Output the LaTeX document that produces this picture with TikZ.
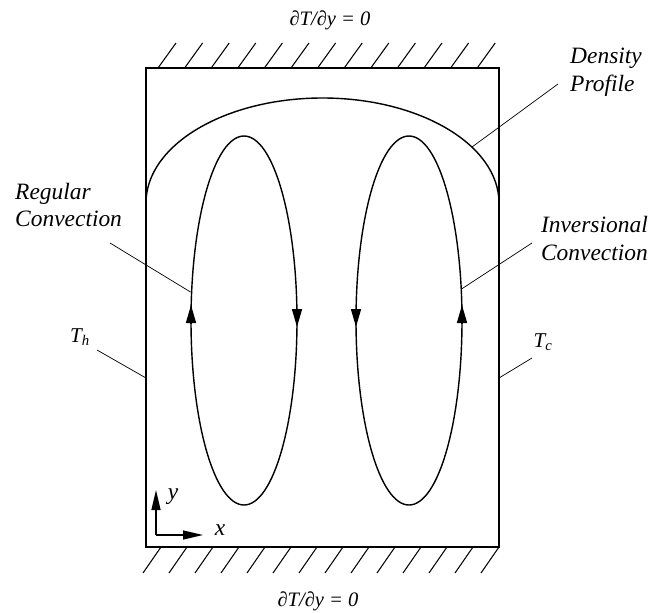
\documentclass[tikz,border=0pt]{standalone}
\usepackage{fontspec}
\setmainfont{Liberation Serif}
\usetikzlibrary{arrows.meta}

\begin{document}
\begin{tikzpicture}[
  x=0.03cm, y=-0.03cm,
  wall/.style={line width=1.6pt},
  hatch/.style={line width=0.9pt},
  curve/.style={line width=1.2pt},
  leader/.style={line width=0.6pt},
  flow/.style={line width=1.2pt, -{Triangle[length=0.54cm, width=0.3cm]}},
  axis/.style={line width=1.2pt, -{Triangle[length=0.6cm, width=0.27cm]}},
  lbl/.style={font=\fontsize{20}{23.8}\selectfont\itshape, inner sep=0pt, align=left},
  bc/.style={font=\fontsize{17.5}{21}\selectfont\itshape, inner sep=0pt}
]
  \useasboundingbox (0,0) rectangle (668,613);

  % cavity with insulated top and bottom
  \draw[wall] (146,68) rectangle (499,547);
  \foreach \k in {0,...,12}
    \draw[hatch] ({158+26.6*\k},68) -- ++(18,-25);
  \foreach \k in {0,...,13}
    \draw[hatch] ({143+26*\k},573) -- ++(18,-26);
  \node[bc] (topbc) at (330,20) {∂T/∂y = 0};
  \node[bc] (botbc) at (318,601) {∂T/∂y = 0};

  % density profile and the two cells
  \draw[curve] (146,203) arc[start angle=180, end angle=360, x radius=176.5, y radius=105];
  \draw[curve] (244,320.5) ellipse[x radius=53, y radius=184.5];
  \draw[curve] (409,320.5) ellipse[x radius=53, y radius=184.5];
  \draw[flow] (191,323) -- (191,305);
  \draw[flow] (297,311) -- (297,327);
  \draw[flow] (356,311) -- (356,327);
  \draw[flow] (462,323) -- (462,305);

  % labels
  \node[lbl, anchor=west] (regular) at (15,205) {Regular\\Convection};
  \node[lbl, anchor=east] (inversional) at (648,238.5) {Inversional\\Convection};
  \node[lbl, anchor=west] (density) at (570,72) {Density\\Profile};
  \node[bc, font=\fontsize{18}{21}\selectfont\itshape] (th) at (80,337) {T\textsubscript{h}};
  \node[bc, font=\fontsize{18}{21}\selectfont\itshape] (tc) at (543,342) {T\textsubscript{c}};

  \coordinate (regA) at (110,243);  \coordinate (regB) at (190.5,292);
  \coordinate (invA) at (532,243);  \coordinate (invB) at (461.5,289);
  \coordinate (denA) at (558,84);   \coordinate (denB) at (472,147);
  \coordinate (thA) at (97,350);    \coordinate (thB) at (146,378);
  \coordinate (tcA) at (532,358);   \coordinate (tcB) at (499,378);
  \draw[leader] (regA) -- (regB);
  \draw[leader] (invA) -- (invB);
  \draw[leader] (denA) -- (denB);
  \draw[leader] (thA) -- (thB);
  \draw[leader] (tcA) -- (tcB);

  % axes
  \coordinate (O) at (156,535);
  \coordinate (xend) at (203,535);
  \coordinate (yend) at (156,490);
  \draw[axis] (O) -- (xend);
  \draw[axis] (O) -- (yend);
  \node[lbl] (xlab) at (220,530) {x};
  \node[lbl] (ylab) at (173,497) {y};
\end{tikzpicture}
\end{document}
